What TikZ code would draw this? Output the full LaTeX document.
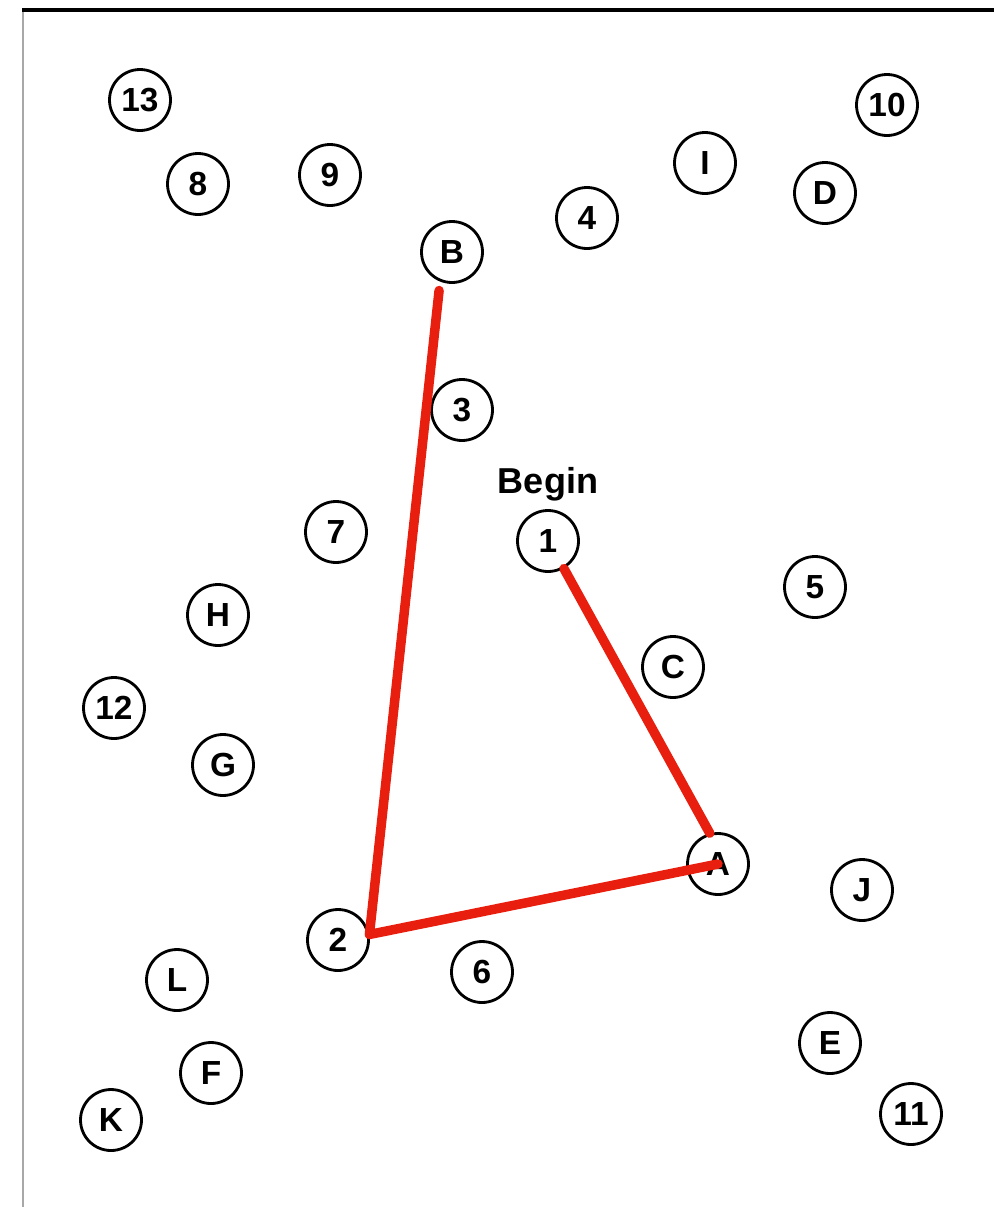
\documentclass[tikz,border=0pt]{standalone}
\usepackage{fontspec}
\setmainfont{Liberation Sans}
\usepackage{tikz}
\usetikzlibrary{calc}
\definecolor{pen}{HTML}{E81E0E}
\definecolor{framegray}{HTML}{A8A8A8}
\tikzset{
  site/.style={circle, draw=black, line width=1.6pt, minimum size=1.22cm,
               inner sep=0pt, font=\fontsize{19}{22}\selectfont\bfseries},
  redpen/.style={pen, line width=5.4pt, line cap=round, line join=round},
}

\begin{document}
\begin{tikzpicture}[x=0.02cm, y=-0.02cm]

  \useasboundingbox (0,0) rectangle (994,1207);

  % Frame (top and left edges only)
  \draw[framegray, line width=1.6pt] (23,10) -- (23,1207);
  \draw[black, line width=2.2pt] (22,10) -- (994,10);

  % Sites, top row
  \node[site] (n13) at (140,100) {13};
  \node[site] (n8)  at (198,184) {8};
  \node[site] (n9)  at (330,175) {9};
  \node[site] (B)   at (452,252) {B};
  \node[site] (n4)  at (587,218) {4};
  \node[site] (I)   at (705,163) {I};
  \node[site] (D)   at (825,193) {D};
  \node[site] (n10) at (887,105) {10};

  % Sites, middle
  \node[site] (n3)  at (462,410) {3};
  \node[site] (n1)  at (548,541) {1};
  \node[font=\fontsize{20.5}{24}\selectfont\bfseries, above=1pt] (begin) at (n1.north) {Begin};
  \node[site] (n7)  at (336,532) {7};
  \node[site] (n5)  at (815,587) {5};
  \node[site] (H)   at (218,615) {H};
  \node[site] (C)   at (673,667) {C};
  \node[site] (n12) at (114,708) {12};
  \node[site] (G)   at (223,765) {G};

  % Sites, bottom
  \node[site] (A)   at (718,864) {A};
  \node[site] (J)   at (862,890) {J};
  \node[site] (n2)  at (338,940) {2};
  \node[site] (n6)  at (482,972) {6};
  \node[site] (L)   at (177,980) {L};
  \node[site] (E)   at (830,1043) {E};
  \node[site] (F)   at (211,1073) {F};
  \node[site] (K)   at (111,1120) {K};
  \node[site] (n11) at (911,1114) {11};

  % Route drawn over the sites
  \draw[redpen] (n1.-60) -- (A.105);
  \draw[redpen, shorten <=0.18cm] (B.-112) -- (n2.10) -- (A.center);

\end{tikzpicture}
\end{document}
